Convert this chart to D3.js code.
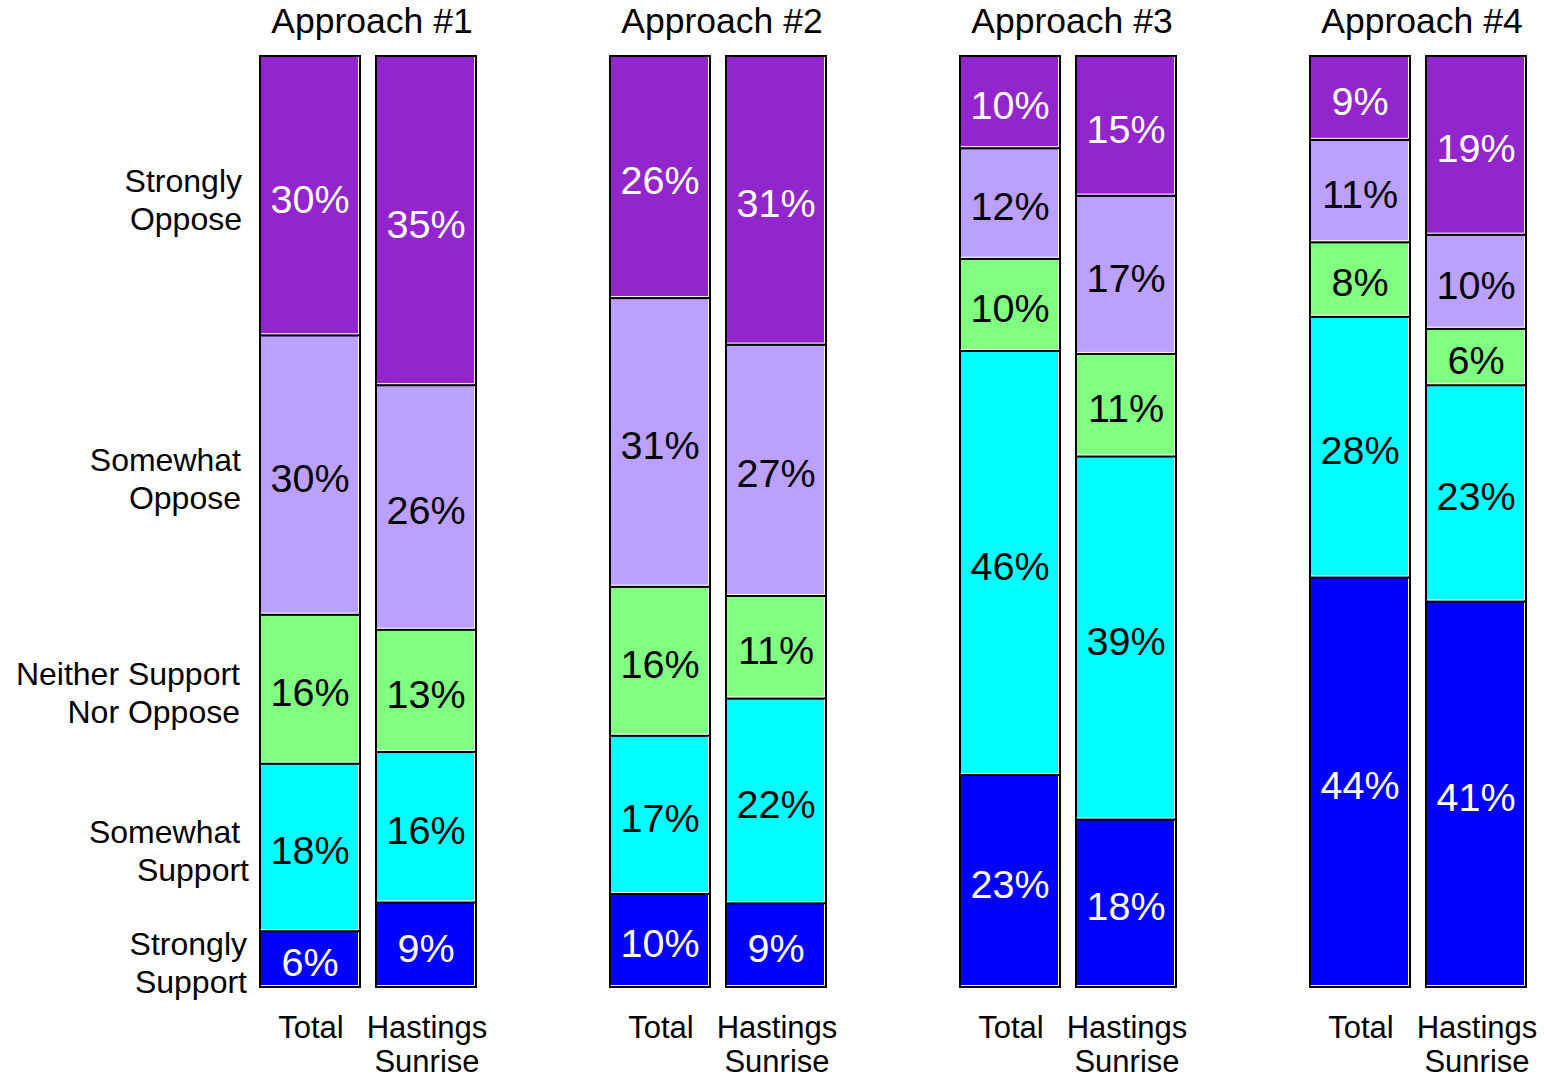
<!DOCTYPE html>
<html>
<head>
<meta charset="utf-8">
<script src="https://cdn.jsdelivr.net/npm/d3@7"></script>
<style>
  html, body { margin: 0; padding: 0; background: #fff; }
  svg { display: block; font-family: Arial, "Liberation Sans", sans-serif; }
</style>
</head>
<body>
<svg id="chart" width="1544" height="1078"></svg>
<script>
// Response levels, stacked bottom to top
const levels = ["Strongly Support", "Somewhat Support", "Neither Support Nor Oppose", "Somewhat Oppose", "Strongly Oppose"];
const levelLines = [["Strongly", "Support"], ["Somewhat ", "Support"], ["Neither Support", "Nor Oppose"], ["Somewhat", "Oppose"], ["Strongly", "Oppose"]];
const levelColors = ["#0000ff", "#00ffff", "#80ff80", "#bba0ff", "#9226cc"];
const levelText = ["#ffffff", "#000000", "#000000", "#000000", "#ffffff"];

const approaches = ["Approach #1", "Approach #2", "Approach #3", "Approach #4"];
const groups = ["Total", "Hastings Sunrise"];
const groupLines = [["Total"], ["Hastings", "Sunrise"]];

// Percentages per approach, in level order (Strongly Support .. Strongly Oppose)
const totalValues = [
  [6, 18, 16, 30, 30],
  [10, 17, 16, 31, 26],
  [23, 46, 10, 12, 10],
  [44, 28, 8, 11, 9]
];
const hastingsValues = [
  [9, 16, 13, 26, 35],
  [9, 22, 11, 27, 31],
  [18, 39, 11, 17, 15],
  [41, 23, 6, 10, 19]
];

const svg = d3.select("#chart");

const xPanel = d3.scaleBand().domain(approaches).range([260, 260 + 350 * 4]);
const xGroup = d3.scaleBand().domain(groups).range([0, 216]).paddingInner(16 / 116);
const barW = xGroup.bandwidth();
const yTop = 56, yBottom = 987;

const bars = [];
approaches.forEach((a, i) => {
  [totalValues[i], hastingsValues[i]].forEach((vals, g) => {
    const sum = d3.sum(vals);
    const y = d3.scaleLinear().domain([0, sum]).range([yBottom, yTop]);
    let acc = 0;
    const segs = vals.map((v, k) => {
      const s = { level: k, value: v, y0: y(acc), y1: y(acc + v) };
      acc += v;
      return s;
    });
    bars.push({ approach: a, group: groups[g], x: xPanel(a) + xGroup(groups[g]), segs });
  });
});

// Bars
const barG = svg.append("g").selectAll("g").data(bars).join("g")
  .attr("transform", d => `translate(${d.x},0)`);

const segG = barG.selectAll("g").data(d => d.segs).join("g");
segG.append("rect")
  .attr("x", 0).attr("width", barW)
  .attr("y", d => d.y1).attr("height", d => d.y0 - d.y1)
  .attr("fill", d => levelColors[d.level])
  .attr("stroke", "#000").attr("stroke-width", 2);
// light inner edge along bottom and right side of each segment
segG.append("path")
  .attr("d", d => `M1,${d.y0 - 1.5}H${barW - 1.5}V${d.y1 + 1}`)
  .attr("fill", "none").attr("stroke", "#fff").attr("stroke-width", 1);
segG.append("text")
  .attr("x", barW / 2)
  .attr("y", d => (d.y0 + d.y1) / 2 + 3 + 14)
  .attr("text-anchor", "middle")
  .attr("font-size", 39.5)
  .attr("fill", d => levelText[d.level])
  .text(d => d.value + "%");

// Titles
svg.append("g").selectAll("text").data(approaches).join("text")
  .attr("x", d => xPanel(d) + 216 / 2 + 4)
  .attr("y", 33)
  .attr("text-anchor", "middle")
  .attr("font-size", 35.5)
  .text(d => d);

// Group labels under each bar
const glab = svg.append("g").selectAll("g").data(bars).join("g");
glab.each(function (d) {
  const lines = groupLines[groups.indexOf(d.group)];
  d3.select(this).selectAll("text").data(lines).join("text")
    .attr("x", d.x + barW / 2 + 1)
    .attr("y", (l, j) => 1038 + j * 34)
    .attr("text-anchor", "middle")
    .attr("font-size", 31)
    .text(l => l);
});

// Level labels on the left, aligned to the first Total bar
const ref = bars[0].segs;
const labelRight = [247, 249, 240, 241, 242];
const lvl = svg.append("g").selectAll("g").data(levels).join("g");
lvl.each(function (d, k) {
  const cy = (ref[k].y0 + ref[k].y1) / 2 + 4;
  d3.select(this).selectAll("text").data(levelLines[k]).join("text")
    .attr("x", labelRight[k])
    .attr("y", (l, j) => cy - 19 + 11 + j * 38)
    .attr("text-anchor", "end")
    .attr("font-size", 32)
    .attr("xml:space", "preserve")
    .style("white-space", "pre")
    .text(l => l);
});
</script>
</body>
</html>
